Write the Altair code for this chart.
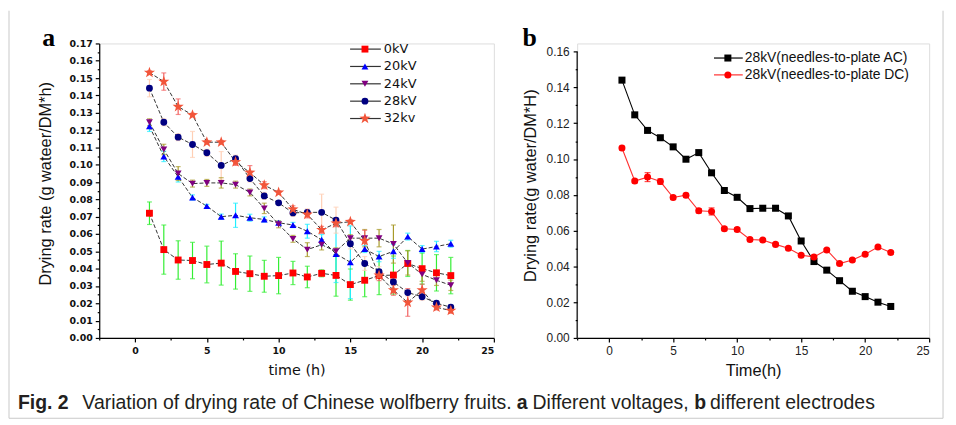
import altair as alt
import pandas as pd

# ---------------- data ----------------
time_h = list(range(1, 23))

voltages = ["0kV", "20kV", "24kV", "28kV", "32kv"]
rate_0kv = [0.0720, 0.0510, 0.0450, 0.0447, 0.0424, 0.0432, 0.0384, 0.0371, 0.0356, 0.0360, 0.0375,
            0.0352, 0.0373, 0.0361, 0.0308, 0.0333, 0.0360, 0.0363, 0.0430, 0.0400, 0.0376, 0.0360]
rate_20kv = [0.1222, 0.1048, 0.0930, 0.0811, 0.0761, 0.0700, 0.0708, 0.0694, 0.0684, 0.0665, 0.0652,
             0.0616, 0.0567, 0.0485, 0.0437, 0.0513, 0.0470, 0.0500, 0.0585, 0.0513, 0.0528, 0.0544]
rate_24kv = [0.1245, 0.1088, 0.0949, 0.0891, 0.0895, 0.0895, 0.0885, 0.0840, 0.0748, 0.0656, 0.0572,
             0.0510, 0.0538, 0.0500, 0.0576, 0.0576, 0.0576, 0.0542, 0.0433, 0.0367, 0.0333, 0.0304]
rate_28kv = [0.1442, 0.1245, 0.1159, 0.1117, 0.1069, 0.0996, 0.1035, 0.0920, 0.0820, 0.0780, 0.0722,
             0.0725, 0.0725, 0.0680, 0.0544, 0.0430, 0.0382, 0.0323, 0.0262, 0.0238, 0.0201, 0.0177]
rate_32kv = [0.1532, 0.1480, 0.1335, 0.1287, 0.1130, 0.1130, 0.1016, 0.0955, 0.0882, 0.0840, 0.0743,
             0.0713, 0.0624, 0.0662, 0.0671, 0.0561, 0.0361, 0.0276, 0.0205, 0.0276, 0.0177, 0.0158]

err_0kv = [0.0065, 0.0142, 0.0111, 0.0105, 0.0106, 0.0127, 0.0102, 0.0102, 0.0092, 0.0105, 0.0067,
           0.0062, 0.0020, 0.0120, 0.0090, 0.0095, 0.0110, 0.0110, 0.0075, 0.0090, 0.0105, 0.0105]
err_20kv = [0.0030, 0.0030, 0.0030, 0.0015, 0.0010, 0.0015, 0.0070, 0.0020, 0.0015, 0.0010, 0.0015,
            0.0040, 0.0030, 0.0165, 0.0210, 0.0020, 0.0030, 0.0040, 0.0020, 0.0020, 0.0030, 0.0020]
err_24kv = [0.0020, 0.0030, 0.0040, 0.0020, 0.0020, 0.0030, 0.0020, 0.0020, 0.0030, 0.0020, 0.0020,
            0.0040, 0.0030, 0.0020, 0.0020, 0.0050, 0.0050, 0.0110, 0.0070, 0.0040, 0.0030, 0.0030]
err_28kv = [0.0050, 0.0020, 0.0020, 0.0075, 0.0020, 0.0080, 0.0020, 0.0020, 0.0020, 0.0010, 0.0020,
            0.0020, 0.0105, 0.0075, 0.0030, 0.0040, 0.0030, 0.0020, 0.0020, 0.0020, 0.0010, 0.0010]
err_32kv = [0.0010, 0.0050, 0.0045, 0.0010, 0.0010, 0.0010, 0.0020, 0.0040, 0.0020, 0.0010, 0.0020,
            0.0020, 0.0020, 0.0020, 0.0010, 0.0060, 0.0030, 0.0030, 0.0080, 0.0035, 0.0015, 0.0015]

electrodes = ["28kV(needles-to-plate AC)", "28kV(needles-to-plate DC)"]
rate_ac = [0.1441, 0.1247, 0.1160, 0.1119, 0.1068, 0.0999, 0.1036, 0.0923, 0.0824, 0.0786, 0.0723,
           0.0725, 0.0725, 0.0682, 0.0542, 0.0427, 0.0379, 0.0320, 0.0261, 0.0231, 0.0200, 0.0176]
rate_dc = [0.1062, 0.0877, 0.0899, 0.0874, 0.0785, 0.0798, 0.0711, 0.0707, 0.0610, 0.0606, 0.0550,
           0.0547, 0.0523, 0.0501, 0.0462, 0.0453, 0.0492, 0.0416, 0.0436, 0.0468, 0.0508, 0.0477]
err_dc = [0.0010, 0.0010, 0.0025, 0.0015, 0.0010, 0.0010, 0.0012, 0.0020, 0.0010, 0.0010, 0.0008,
          0.0008, 0.0008, 0.0008, 0.0008, 0.0008, 0.0008, 0.0008, 0.0008, 0.0008, 0.0008, 0.0008]

x_ticks = [-2.5, 0, 2.5, 5, 7.5, 10, 12.5, 15, 17.5, 20, 22.5, 25]
y_ticks_a = [round(i * 0.005, 3) for i in range(35)]
y_ticks_b = [round(i * 0.01, 2) for i in range(17)]

caption_parts = ["Fig. 2", "Variation of drying rate of Chinese wolfberry fruits.", "a",
                 "Different voltages,", "b", "different electrodes"]

# ---------------- styles ----------------
marker_colors = ["#ff0000", "#0000ff", "#800080", "#000080", "#f2553a"]
err_colors = ["#33ee33", "#22eeff", "#a89a2a", "#ffcfb5", "#f26060"]
STAR = ("M0,-1L0.235,-0.324L0.951,-0.309L0.380,0.124L0.588,0.809L0,0.4L-0.588,0.809"
        "L-0.380,0.124L-0.951,-0.309L-0.235,-0.324Z")
shapes_a = ["square", "triangle-up", "triangle-down", "circle", STAR]

# ---------------- tables ----------------
rows = []
for name, vals, errs in zip(voltages, [rate_0kv, rate_20kv, rate_24kv, rate_28kv, rate_32kv],
                            [err_0kv, err_20kv, err_24kv, err_28kv, err_32kv]):
    for t, v, e in zip(time_h, vals, errs):
        rows.append({"t": t, "series": name, "rate": v, "lo": v - e, "hi": v + e})
df_a = pd.DataFrame(rows)

rows = []
for name, vals in zip(electrodes, [rate_ac, rate_dc]):
    for t, v in zip(time_h, vals):
        rows.append({"t": t, "series": name, "rate": v})
df_b = pd.DataFrame(rows)
df_b_err = pd.DataFrame({"t": time_h, "lo": [v - e for v, e in zip(rate_dc, err_dc)],
                         "hi": [v + e for v, e in zip(rate_dc, err_dc)]})

leg_a = pd.DataFrame({"series": voltages, "row": list(range(len(voltages)))})
leg_b = pd.DataFrame({"series": electrodes, "row": list(range(len(electrodes)))})
one = pd.DataFrame({"k": [0]})

# ---------------- axes ----------------
tick_x = {"condition": {"test": "datum.value % 5 === 0", "value": 4}, "value": 2}

axis_xa = alt.Axis(values=x_ticks, title="time (h)", grid=False,
                   labelExpr="datum.value % 5 === 0 ? format(datum.value, 'd') : ''",
                   tickSize=tick_x, domainColor="black", tickColor="black", domainWidth=1.2,
                   tickWidth=1.2, labelFont="DejaVu Sans", labelFontSize=9.5, labelFontWeight="bold",
                   labelColor="#111", labelPadding=4, titleFont="DejaVu Sans", titleFontSize=14.5,
                   titleFontWeight="normal", titleColor="#111", titlePadding=8)
axis_ya = alt.Axis(values=y_ticks_a, title="Drying rate (g wateer/DM*h)", grid=False,
                   labelExpr="round(datum.value*1000) % 10 === 0 ? format(datum.value, '.2f') : ''",
                   tickSize={"condition": {"test": "round(datum.value*1000) % 10 === 0", "value": 4},
                             "value": 2},
                   domainColor="black", tickColor="black", domainWidth=1.2, tickWidth=1.2,
                   labelFont="DejaVu Sans", labelFontSize=9.5, labelFontWeight="bold",
                   labelColor="#111", labelPadding=3, titleFont="Liberation Sans", titleFontSize=16.5,
                   titleFontWeight="normal", titleColor="#111", titleX=-54, titleY=141,
                   titleBaseline="middle")

axis_xb = alt.Axis(values=x_ticks, title="Time(h)", grid=False,
                   labelExpr="datum.value % 5 === 0 ? format(datum.value, 'd') : ''",
                   tickSize=tick_x, domainColor="black", tickColor="black", domainWidth=1.2,
                   tickWidth=1.2, labelFont="Liberation Sans", labelFontSize=12,
                   labelColor="#222", labelPadding=4, titleFont="Liberation Sans", titleFontSize=16.5,
                   titleFontWeight="normal", titleColor="#111", titlePadding=6)
axis_yb = alt.Axis(values=y_ticks_b, title="Drying rate(g water/DM*H)", grid=False, domain=False,
                   labelExpr="round(datum.value*100) % 2 === 0 ? format(datum.value, '.2f') : ''",
                   tickSize={"condition": {"test": "round(datum.value*100) % 2 === 0", "value": 4},
                             "value": 2},
                   tickColor="black", tickWidth=1.2,
                   labelFont="Liberation Sans", labelFontSize=12, labelColor="#222", labelPadding=4,
                   titleFont="Liberation Sans", titleFontSize=16.5, titleFontWeight="normal",
                   titleColor="#111", titleX=-47, titleY=143, titleBaseline="middle")

x_scale = alt.Scale(domain=[-2.5, 25], nice=False, zero=False)
ya_scale = alt.Scale(domain=[0, 0.17], nice=False)
yb_scale = alt.Scale(domain=[0, 0.1646], nice=False)


def XA():
    return alt.X("t:Q", scale=x_scale, axis=axis_xa)


def YA(f):
    return alt.Y(f + ":Q", scale=ya_scale, axis=axis_ya)


def XB():
    return alt.X("t:Q", scale=x_scale, axis=axis_xb)


def YB(f):
    return alt.Y(f + ":Q", scale=yb_scale, axis=axis_yb)


fill_a = alt.Fill("series:N", scale=alt.Scale(domain=voltages, range=marker_colors), legend=None)
shape_a = alt.Shape("series:N", scale=alt.Scale(domain=voltages, range=shapes_a), legend=None)
size_a = alt.condition(alt.datum.series == "32kv", alt.value(140), alt.value(48))
err_stroke_a = alt.Stroke("series:N", scale=alt.Scale(domain=voltages, range=err_colors), legend=None)
err_color_a = alt.Color("series:N", scale=alt.Scale(domain=voltages, range=err_colors), legend=None)

# ---------------- panel a ----------------
base_a = alt.Chart(df_a)
lines_a = base_a.mark_line(color="#333", strokeWidth=1, strokeDash=[4, 2]).encode(
    x=XA(), y=YA("rate"), detail="series:N")
err_a = base_a.mark_rule(strokeWidth=1.2).encode(x=XA(), y=YA("lo"), y2="hi:Q", stroke=err_stroke_a)
caps_a = base_a.transform_fold(["lo", "hi"], as_=["which", "val"]).mark_tick(
    orient="horizontal", size=5, thickness=1.2).encode(x=XA(), y=YA("val"), color=err_color_a)
pts_a = base_a.mark_point(filled=True, opacity=1, strokeWidth=0).encode(
    x=XA(), y=YA("rate"), fill=fill_a, shape=shape_a, size=size_a)

leg_base_a = alt.Chart(leg_a).transform_calculate(ly="5.7 + 17.5 * datum.row")
leg_y = alt.Y("ly:Q", scale=None, axis=None)
leg_rule_a = leg_base_a.mark_rule(color="#333", strokeWidth=1.2).encode(
    x=alt.value(253), x2=alt.value(284), y=leg_y)
leg_pts_a = leg_base_a.mark_point(filled=True, opacity=1, strokeWidth=0).encode(
    x=alt.value(268), y=leg_y, fill=fill_a, shape=shape_a, size=size_a)
leg_txt_a = leg_base_a.mark_text(align="left", baseline="middle", font="DejaVu Sans",
                                 fontSize=13, color="#111").encode(
    x=alt.value(287), y=leg_y, text="series:N")

deco = alt.Chart(one)
label_a = deco.mark_text(text="a", font="Liberation Serif", fontWeight="bold", fontSize=26,
                         align="center", baseline="alphabetic", color="#000").encode(
    x=alt.value(-51), y=alt.value(3))

border_l = deco.mark_rule(color="#c8c8c8", strokeWidth=1).encode(
    x=alt.value(-91), y=alt.value(-33), y2=alt.value(378))
border_r = deco.mark_rule(color="#c8c8c8", strokeWidth=1).encode(
    x=alt.value(851), y=alt.value(-33), y2=alt.value(378))
border_b = deco.mark_rule(color="#c8c8c8", strokeWidth=1).encode(
    x=alt.value(-91), x2=alt.value(851), y=alt.value(378))

cap_x = [-82, -17, 421, 437, 600, 616]
cap_bold = [True, False, True, False, True, False]
caption_layers = []
for txt, cx, b in zip(caption_parts, cap_x, cap_bold):
    caption_layers.append(deco.mark_text(text=txt, font="Liberation Sans", fontSize=19.6,
                                         fontWeight="bold" if b else "normal", align="left",
                                         baseline="middle", color="#231f20").encode(
        x=alt.value(cx), y=alt.value(363)))

panel_a = alt.layer(border_l, border_r, border_b, lines_a, err_a, caps_a, pts_a,
                    leg_rule_a, leg_pts_a, leg_txt_a, label_a, *caption_layers).properties(
    width=398, height=297)

# ---------------- panel b ----------------
line_col_b = alt.Color("series:N", scale=alt.Scale(domain=electrodes, range=["#000000", "#ff3030"]),
                       legend=None)
fill_b = alt.Fill("series:N", scale=alt.Scale(domain=electrodes, range=["#000000", "#ff0000"]),
                  legend=None)
shape_b = alt.Shape("series:N", scale=alt.Scale(domain=electrodes, range=["square", "circle"]),
                    legend=None)

base_b = alt.Chart(df_b)
yaxis_line_b = deco.mark_rule(color="black", strokeWidth=1.2).encode(
    x=alt.X(datum=-2.5, scale=x_scale, axis=axis_xb),
    y=alt.Y(datum=0, scale=yb_scale, axis=axis_yb), y2=alt.datum(0.16))
lines_b = base_b.mark_line(strokeWidth=1.1).encode(x=XB(), y=YB("rate"), color=line_col_b)
err_b = alt.Chart(df_b_err).mark_rule(color="#ff0000", strokeWidth=1.2).encode(
    x=XB(), y=YB("lo"), y2="hi:Q")
caps_b = alt.Chart(df_b_err).transform_fold(["lo", "hi"], as_=["which", "val"]).mark_tick(
    orient="horizontal", size=6, thickness=1.2, color="#ff0000").encode(x=XB(), y=YB("val"))
pts_b = base_b.mark_point(filled=True, opacity=1, size=50, strokeWidth=0).encode(
    x=XB(), y=YB("rate"), fill=fill_b, shape=shape_b)

leg_base_b = alt.Chart(leg_b).transform_calculate(ly="14.7 + 17 * datum.row")
leg_rule_b = leg_base_b.mark_rule(strokeWidth=1.2).encode(
    x=alt.value(138), x2=alt.value(167), y=leg_y, color=line_col_b)
leg_pts_b = leg_base_b.mark_point(filled=True, opacity=1, size=50, strokeWidth=0).encode(
    x=alt.value(152), y=leg_y, fill=fill_b, shape=shape_b)
leg_txt_b = leg_base_b.mark_text(align="left", baseline="middle", font="Liberation Sans",
                                 fontSize=14, color="#111").encode(
    x=alt.value(169), y=leg_y, text="series:N")
label_b = deco.mark_text(text="b", font="Liberation Serif", fontWeight="bold", fontSize=26,
                         align="center", baseline="alphabetic", color="#000").encode(
    x=alt.value(-48), y=alt.value(3))

panel_b = alt.layer(yaxis_line_b, lines_b, err_b, caps_b, pts_b, leg_rule_b, leg_pts_b, leg_txt_b,
                    label_b).properties(width=355, height=297)

chart = alt.hconcat(panel_a, panel_b, spacing=84, bounds="flush").resolve_scale(
    x="independent", y="independent", color="independent", fill="independent",
    shape="independent", stroke="independent"
).properties(
    padding={"left": 0, "top": 0, "right": 4, "bottom": 0}
).configure_view(strokeWidth=0).configure(background="white")

chart.save("out.html", embed_options={"renderer": "svg", "actions": False})
